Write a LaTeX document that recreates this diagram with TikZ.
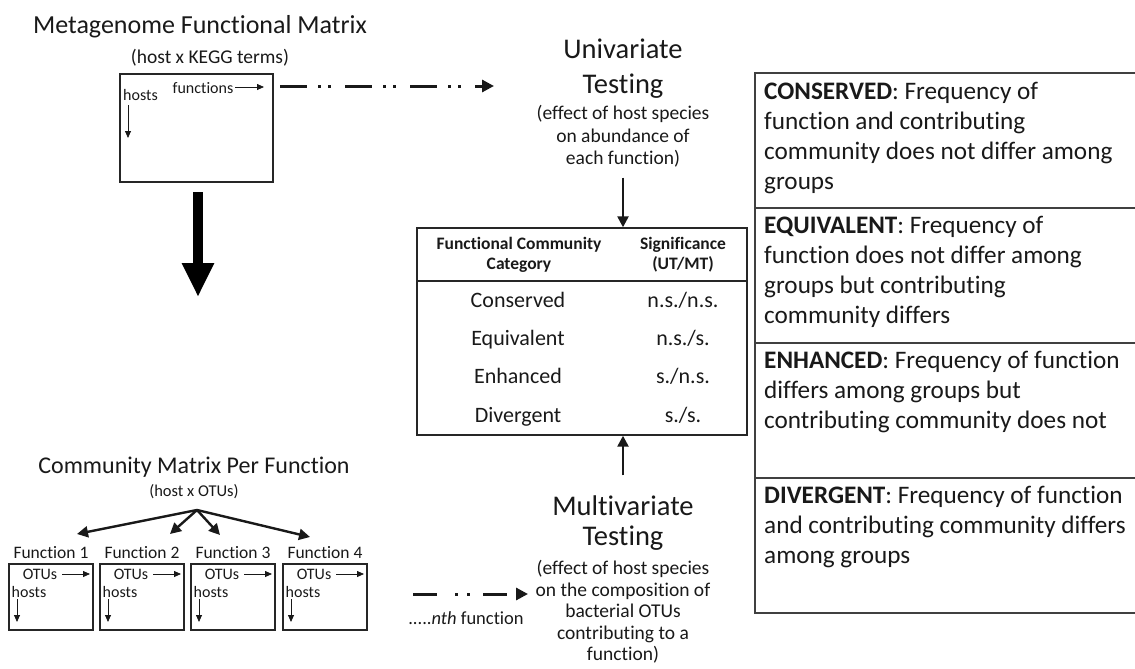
\documentclass[tikz,border=0pt]{standalone}
\usepackage{fontspec}
\setmainfont{Carlito}[Ligatures=NoCommon]
\usetikzlibrary{arrows.meta}
\newcommand{\myfs}[2]{\fontsize{#1}{#2}\selectfont}
\begin{document}
\begin{tikzpicture}[x=1pt,y=-1pt,
  txt/.style={inner sep=0pt, align=center, text=black!90},
  lefttxt/.style={inner sep=0pt, align=left, text=black!90, anchor=north west, font=\myfs{25.2}{30}},
  box/.style={draw=black!85, line width=1.4pt, inner sep=0pt},
  rbox/.style={draw=black!75, line width=1.6pt, inner sep=0pt, anchor=north west, minimum width=390pt, minimum height=135pt},
  rowtxt/.style={txt, font=\myfs{22}{24}, text height=14pt, text depth=4pt},
  thinarrow/.style={draw=black!90, line width=0.8pt, -{Triangle[length=7pt,width=6pt]}},
  midarrow/.style={draw=black!90, line width=2.4pt, -{Triangle[length=11pt,width=11pt]}},
  dashtop/.style={draw=black!90, line width=3pt, dash pattern=on 27pt off 11pt on 3pt off 7pt on 3pt off 14pt, -{Triangle[length=12pt,width=12pt]}},
  dashbot/.style={draw=black!90, line width=3pt, dash pattern=on 24pt off 18pt on 3pt off 9pt on 3pt off 13pt, -{Triangle[length=12pt,width=12pt]}},
  bigarrow/.style={draw=black, line width=10pt, -{Triangle[length=34pt,width=30pt]}}]
\useasboundingbox (0,0) rectangle (1135,669);
\clip (0,0) rectangle (1135,669);

% ---------- top: metagenome matrix ----------
\node[txt, font=\myfs{26}{30}] (title) at (200,27) {Metagenome Functional Matrix};
\node[txt, font=\myfs{19.5}{22}] (titlesub) at (210,58) {(host x KEGG terms)};
\node[box, minimum width=153pt, minimum height=108pt] (fmat) at (196.5,128) {};
\node[txt, font=\myfs{16}{19}] (ffun) at (203,88) {functions};
\node[txt, font=\myfs{16}{19}] (fhosts) at (140.5,95) {hosts};
\coordinate (ffa) at (235,87);
\coordinate (ffb) at (264,87);
\draw[thinarrow] (ffa) -- (ffb);
\coordinate (fha) at (128,105);
\coordinate (fhb) at (128,138);
\draw[thinarrow] (fha) -- (fhb);

% big down arrow
\coordinate (bigA) at (198,192);
\coordinate (bigB) at (198,297);
\draw[bigarrow] (bigA) -- (bigB);

% dashed arrow to univariate
\coordinate (dta) at (280,86);
\coordinate (dtb) at (494,86);
\draw[dashtop] (dta) -- (dtb);

% ---------- univariate ----------
\node[txt, font=\myfs{28.5}{35}] (uni) at (623,69) {Univariate\\Testing};
\node[txt, font=\myfs{19.5}{22.5}] (unisub) at (623,136.5) {(effect of host species\\on abundance of\\each function)};

% ---------- table ----------
\node[box, minimum width=330pt, minimum height=207pt] (tab) at (582,331.5) {};
\draw[draw=black!85, line width=1.4pt] (tab.west |- 0,281) -- (tab.east |- 0,281);
\node[txt, font=\bfseries\myfs{17.5}{20}] (h1) at (519,255) {Functional Community\\Category};
\node[txt, font=\bfseries\myfs{17.5}{20}] (h2) at (683,255) {Significance\\(UT/MT)};
\node[rowtxt] (r1a) at (518,302) {Conserved};
\node[rowtxt] (r1b) at (683,302) {n.s./n.s.};
\node[rowtxt] (r2a) at (518,340) {Equivalent};
\node[rowtxt] (r2b) at (683,340) {n.s./s.};
\node[rowtxt] (r3a) at (518,378) {Enhanced};
\node[rowtxt] (r3b) at (683,378) {s./n.s.};
\node[rowtxt] (r4a) at (518,417) {Divergent};
\node[rowtxt] (r4b) at (683,417) {s./s.};

\draw[midarrow] ([yshift=-10pt]unisub.south) -- (unisub.south |- tab.north);

% ---------- multivariate ----------
\node[txt, font=\myfs{28.5}{30}] (multi) at (623,523) {Multivariate\\Testing};
\node[txt, font=\myfs{19.5}{21.5}] (multisub) at (623,612) {(effect of host species\\on the composition of\\bacterial OTUs\\contributing to a\\function)};
\draw[midarrow] ([yshift=20pt]multi.north) -- (multi.north |- tab.south);

\coordinate (dba) at (413,594);
\coordinate (dbb) at (528,594);
\draw[dashbot] (dba) -- (dbb);
\node[txt, font=\myfs{18.5}{20}] (nth) at (466,618) {.....\textit{nth} function};

% ---------- community matrices ----------
\node[txt, font=\myfs{24}{28}] (comm) at (194,467) {Community Matrix Per Function};
\node[txt, font=\myfs{16.5}{19}] (commsub) at (194,492) {(host x OTUs)};
\coordinate (fan) at (197,510);
\coordinate (fan1) at (77,534);
\coordinate (fan2) at (170,534);
\coordinate (fan3) at (220,535);
\coordinate (fan4) at (310,537);
\foreach \k in {1,2,3,4} {\draw[midarrow] (fan) -- (fan\k);}

\foreach \i/\x in {1/9,2/100,3/191,4/283} {
  \node[txt, font=\myfs{17.5}{20}] (flab\i) at ({\x+42},553) {Function \i};
  \node[box, minimum width=84pt, minimum height=66pt] (fbox\i) at ({\x+42},597) {};
  \node[txt, font=\myfs{16}{19}] (otu\i) at ({\x+31},574) {OTUs};
  \node[txt, font=\myfs{16}{19}] (hst\i) at ({\x+20},592) {hosts};
  \coordinate (oa\i) at ({\x+53},574);
  \coordinate (ob\i) at ({\x+81},574);
  \draw[thinarrow] (oa\i) -- (ob\i);
  \coordinate (ha\i) at ({\x+8},599);
  \coordinate (hb\i) at ({\x+8},622);
  \draw[thinarrow] (ha\i) -- (hb\i);
}

% ---------- right descriptions ----------
\node[rbox] (cons) at (754,72) {};
\node[rbox] (equi) at (754,207) {};
\node[rbox] (enha) at (754,342) {};
\node[rbox] (dive) at (754,477) {};
\node[lefttxt] (tcons) at (764,82) {\textbf{CONSERVED}: Frequency of\\function and contributing\\community does not differ among\\groups};
\node[lefttxt] (tequi) at (764,216) {\textbf{EQUIVALENT}: Frequency of\\function does not differ among\\groups but contributing\\community differs};
\node[lefttxt] (tenha) at (764,351) {\textbf{ENHANCED}: Frequency of function\\differs among groups but\\contributing community does not};
\node[lefttxt] (tdive) at (764,486) {\textbf{DIVERGENT}: Frequency of function\\and contributing community differs\\among groups};
\end{tikzpicture}
\end{document}
